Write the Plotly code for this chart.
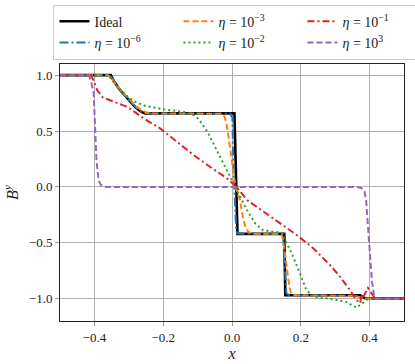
import plotly.graph_objects as go

# B^y profiles
x_ideal = [-0.5, -0.352, -0.345, -0.338, -0.33, -0.32, -0.311, -0.30, -0.29, -0.282, -0.272,
           -0.262, -0.252, 0.007, 0.016, 0.152, 0.155, 0.372, 0.38, 0.39, 0.5]
y_ideal = [1.0, 1.0, 0.955, 0.92, 0.885, 0.848, 0.815, 0.78, 0.745, 0.717, 0.69,
           0.67, 0.658, 0.658, -0.42, -0.42, -0.97, -0.97, -0.985, -1.0, -1.0]

x_e6 = [-0.5, -0.355, -0.345, -0.33, -0.311, -0.29, -0.27, -0.255, -0.24, -0.005, 0.001,
        0.004, 0.012, 0.016, 0.03, 0.148, 0.152, 0.158, 0.165, 0.36, 0.372, 0.385, 0.5]
y_e6 = [1.0, 1.0, 0.955, 0.885, 0.815, 0.745, 0.685, 0.663, 0.656, 0.655, 0.62,
        0.2, -0.38, -0.415, -0.42, -0.42, -0.6, -0.95, -0.97, -0.975, -0.99, -1.0, -1.0]

x_e3 = [-0.5, -0.36, -0.35, -0.34, -0.325, -0.31, -0.295, -0.28, -0.265, -0.25, -0.235,
        -0.03, -0.022, -0.016, -0.006, 0.004, 0.01, 0.023, 0.033, 0.041, 0.047, 0.056,
        0.067, 0.14, 0.146, 0.152, 0.16, 0.167, 0.172, 0.177, 0.19, 0.36, 0.372, 0.385, 0.5]
y_e3 = [1.0, 1.0, 0.97, 0.925, 0.87, 0.82, 0.77, 0.725, 0.69, 0.668, 0.658,
        0.655, 0.63, 0.57, 0.36, 0.12, 0.0, -0.116, -0.295, -0.37, -0.40, -0.415,
        -0.42, -0.42, -0.44, -0.55, -0.75, -0.9, -0.95, -0.965, -0.97, -0.975, -0.99, -1.0, -1.0]

x_e2 = [-0.5, -0.37, -0.36, -0.35, -0.34, -0.32, -0.301, -0.28, -0.253, -0.217, -0.19,
        -0.141, -0.112, -0.1, -0.088, -0.069, -0.049, -0.03, -0.011, 0.009, 0.018, 0.043,
        0.067, 0.091, 0.12, 0.144, 0.154, 0.173, 0.197, 0.216, 0.236, 0.26, 0.284, 0.332,
        0.361, 0.376, 0.39, 0.41, 0.5]
y_e2 = [1.0, 1.0, 0.99, 0.965, 0.92, 0.855, 0.80, 0.76, 0.726, 0.705, 0.69,
        0.672, 0.643, 0.615, 0.57, 0.48, 0.36, 0.24, 0.12, 0.0, -0.056, -0.205,
        -0.325, -0.39, -0.40, -0.41, -0.473, -0.59, -0.77, -0.92, -0.985, -0.995, -1.0, -1.03,
        -1.08, -1.05, -1.01, -1.0, -1.0]

x_e1 = [-0.5, -0.41, -0.402, -0.392, -0.375, -0.354, -0.33, -0.305, -0.28, -0.257, -0.209,
        -0.16, -0.112, -0.064, -0.015, 0.0135, 0.043, 0.091, 0.139, 0.188, 0.236, 0.284,
        0.313, 0.342, 0.361, 0.373, 0.376, 0.379, 0.395, 0.414, 0.43, 0.5]
y_e1 = [1.0, 1.0, 0.95, 0.866, 0.80, 0.777, 0.75, 0.717, 0.665, 0.613, 0.524,
        0.405, 0.286, 0.18, 0.078, 0.0, -0.116, -0.22, -0.324, -0.43, -0.548, -0.696,
        -0.80, -0.92, -1.01, -1.04, -0.96, -1.0, -0.905, -0.99, -1.0, -1.0]

x_p3 = [-0.5, -0.42, -0.415, -0.41, -0.402, -0.399, -0.394, -0.388, -0.382, -0.373, -0.36,
        0.36, 0.376, 0.385, 0.39, 0.394, 0.40, 0.407, 0.413, 0.42, 0.5]
y_p3 = [1.0, 1.0, 0.99, 0.95, 0.837, 0.54, 0.24, 0.063, 0.02, 0.003, 0.0,
        0.0, -0.01, -0.04, -0.12, -0.3, -0.6, -0.85, -0.97, -1.0, -1.0]

series = [
    ("Ideal", x_ideal, y_ideal, "#000000", "solid", 2.6, 1),
    ("<i>η</i> = 10<sup>−6</sup>", x_e6, y_e6, "#1f77b4", "9px,3px,2px,3px", 2.0, 4),
    ("<i>η</i> = 10<sup>−3</sup>", x_e3, y_e3, "#ff7f0e", "6px,3px", 2.0, 2),
    ("<i>η</i> = 10<sup>−2</sup>", x_e2, y_e2, "#2ca02c", "2px,3px", 2.0, 5),
    ("<i>η</i> = 10<sup>−1</sup>", x_e1, y_e1, "#d62728", "7px,3px,2px,3px", 2.0, 3),
    ("<i>η</i> = 10<sup>3</sup>", x_p3, y_p3, "#9467bd", "6px,3px", 2.0, 6),
]

fig = go.Figure()
for name, xs, ys, color, dash, width, rank in series:
    fig.add_trace(go.Scatter(x=xs, y=ys, mode="lines", name=name, legendrank=rank,
                             line=dict(color=color, dash=dash, width=width)))

font = "Liberation Serif"
axis_style = dict(
    showgrid=True, gridcolor="#b0b0b0", gridwidth=1,
    zeroline=False, showline=True, linecolor="#222222", linewidth=1, mirror=True,
    ticks="outside", ticklen=4, tickcolor="#999999", tickformat=".1f",
    tickfont=dict(family=font, size=13, color="#222222"),
)

fig.update_layout(
    width=415, height=364,
    margin=dict(l=59.5, r=11, t=63.5, b=43, autoexpand=False),
    paper_bgcolor="white", plot_bgcolor="white",
    font=dict(family=font, size=13, color="#222222"),
    showlegend=True,
    legend=dict(
        orientation="h", x=-0.019, xanchor="left", y=1.231, yanchor="top",
        bgcolor="white", bordercolor="#cccccc", borderwidth=1,
        entrywidth=79, entrywidthmode="pixels", itemwidth=30,
        font=dict(family=font, size=14, color="#222222"),
        traceorder="normal",
    ),
    xaxis=dict(range=[-0.5, 0.5], tickvals=[-0.4, -0.2, 0.0, 0.2, 0.4],
               title=dict(text="<i>x</i>", standoff=2), **axis_style),
    yaxis=dict(range=[-1.2, 1.1], tickvals=[-1.0, -0.5, 0.0, 0.5, 1.0],
               title=dict(text="<i>B</i><sup><i>y</i></sup>", standoff=6), **axis_style),
)

# drop the page's default body margin so the figure sits at the window's corner
fig.write_html("out.html", config={"displayModeBar": False},
               post_script="document.body.style.margin = '0';")
